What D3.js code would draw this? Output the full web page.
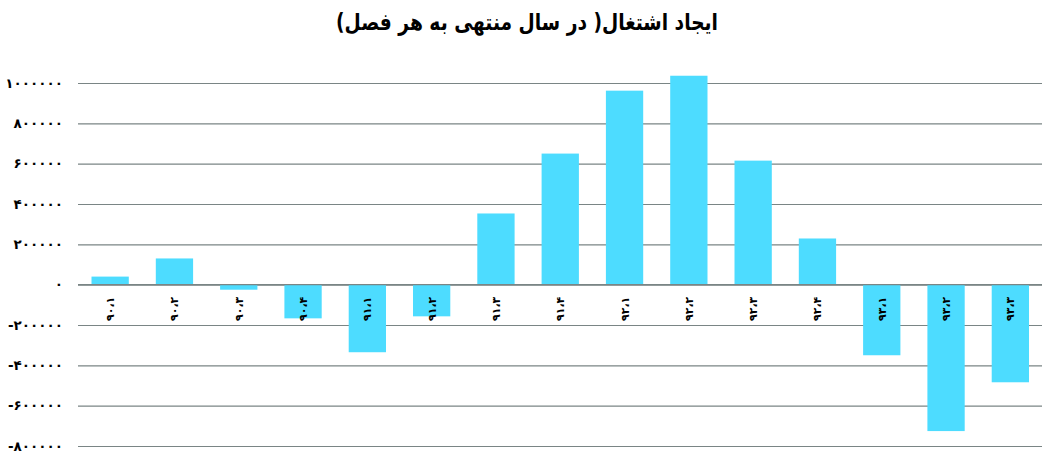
<!DOCTYPE html>
<html>
<head>
<meta charset="utf-8">
<script src="https://cdn.jsdelivr.net/npm/d3@7"></script>
<style>
	body{margin:0;background:#fff;}
	text{font-family:"DejaVu Sans",sans-serif;}
</style>
</head>
<body>
<script>
const categories=['۹۰،۱','۹۰،۲','۹۰،۳','۹۰،۴','۹۱،۱','۹۱،۲','۹۱،۳','۹۱،۴','۹۲،۱','۹۲،۲','۹۲،۳','۹۲،۴','۹۳،۱','۹۳،۲','۹۳،۳']
const values=[40000,130000,-25000,-167000,-335000,-157000,353000,650000,962000,1036000,615000,229000,-350000,-726000,-484000]
const yTicks=[-800000,-600000,-400000,-200000,0,200000,400000,600000,800000,1000000]
const title='ایجاد اشتغال( در سال منتهی به هر فصل)'

const margin=({top:83,right:9,bottom:15,left:78})
const W=1051,H=461
const width=W-margin.left-margin.right,
	height=446-83

const faDigits=n=>String(n).replace(/\d/g,d=>'۰۱۲۳۴۵۶۷۸۹'[d])

let svg=d3.select('body').append('svg')
	.attr('width',W)
	.attr('height',H)

svg.append('text')
	.attr('x',527)
	.attr('y',30)
	.attr('text-anchor','middle')
	.attr('font-size',23)
	.attr('font-weight','bold')
	.attr('direction','rtl')
	.attr('textLength',382)
	.attr('lengthAdjust','spacingAndGlyphs')
	.text(title)

let g=svg.append('g')
	.attr('transform','translate('+margin.left+','+margin.top+')')

let xScale=d3.scaleBand()
	.domain(categories)
	.range([0,width+0.5])
	.paddingInner(0.42)
	.paddingOuter(0.21)

let yScale=d3.scaleLinear()
	.domain([-800000,1000000])
	.range([height,0])

let yAxis=d3.axisLeft()
	.scale(yScale)
	.tickValues(yTicks)
	.tickSize(0)
	.tickPadding(15)
	.tickFormat(d=>d<0?'-'+faDigits(-d):faDigits(d))

g.append('g')
	.attr('class','y-axis')
	.call(yAxis)
	.call(g=>g.select('.domain').remove())
	.call(g=>g.selectAll('.tick text')
		.attr('font-size',13.5)
		.attr('font-weight','bold')
		.attr('fill','#000'))
	.selectAll('.tick line')
	.clone()
	.attr('x2',width)
	.attr('stroke','#7a8585')
	.attr('stroke-width',1.2)

g.append('g')
	.attr('fill','#4ddcff')
	.selectAll('rect')
	.data(values)
	.join('rect')
	.attr('x',(d,i)=>xScale(categories[i]))
	.attr('width',xScale.bandwidth())
	.attr('y',d=>yScale(Math.max(0,d)))
	.attr('height',d=>Math.abs(yScale(d)-yScale(0)))

// zero line drawn over the bars
g.append('line')
	.attr('x1',0)
	.attr('x2',width)
	.attr('y1',yScale(0))
	.attr('y2',yScale(0))
	.attr('stroke','#7a8585')
	.attr('stroke-width',1.2)

g.append('g')
	.selectAll('text')
	.data(categories)
	.join('text')
	.attr('transform',d=>`translate(${xScale(d)+xScale.bandwidth()/2+4},${yScale(0)+12}) rotate(-90)`)
	.attr('text-anchor','end')
	.attr('font-size',11)
	.attr('font-weight','bold')
	.text(d=>d)
</script>
</body>
</html>
